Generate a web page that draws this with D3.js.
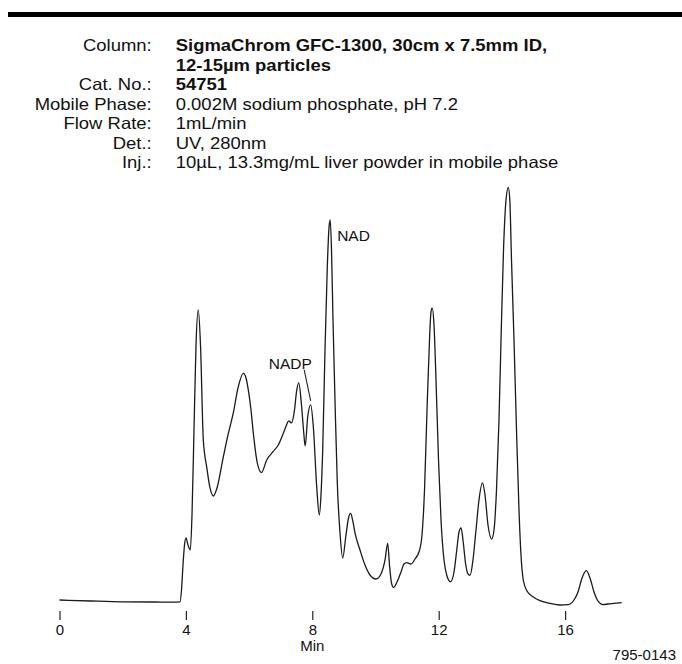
<!DOCTYPE html>
<html>
<head>
<meta charset="utf-8">
<script src="https://cdn.jsdelivr.net/npm/d3@7"></script>
<style>
  html, body { margin: 0; padding: 0; background: #fff; }
  svg { display: block; font-family: "Liberation Sans", Arial, Helvetica, sans-serif; }
</style>
</head>
<body>
<svg id="chart" width="682" height="664"></svg>
<script>
// ---------------- DATA ----------------
const headerLabels = ["Column:", "", "Cat. No.:", "Mobile Phase:", "Flow Rate:", "Det.:", "Inj.:"];
const headerValues = [
  "SigmaChrom GFC-1300, 30cm x 7.5mm ID,",
  "12-15µm particles",
  "54751",
  "0.002M sodium phosphate, pH 7.2",
  "1mL/min",
  "UV, 280nm",
  "10µL, 13.3mg/mL liver powder in mobile phase"
];

// retention time (min)
const retentionTime = [
  0, 1.0, 2.0, 3.0, 3.6, 3.813, 3.861, 3.908, 3.956, 4.003,
  4.066, 4.139, 4.193, 4.256, 4.320, 4.392, 4.462, 4.551, 4.658, 4.763,
  4.867, 4.984, 5.184, 5.332, 5.500, 5.649, 5.816, 5.902, 5.975, 6.060,
  6.133, 6.259, 6.392, 6.557, 6.766, 6.924, 7.082, 7.184, 7.253, 7.342,
  7.437, 7.500, 7.570, 7.658, 7.722, 7.775, 7.854, 7.949, 8.032, 8.139,
  8.222, 8.275, 8.329, 8.402, 8.475, 8.528, 8.566, 8.608, 8.655, 8.718,
  8.791, 8.877, 8.962, 9.066, 9.146, 9.215, 9.288, 9.351, 9.509, 9.668,
  9.826, 10.016, 10.174, 10.301, 10.386, 10.443, 10.506, 10.570, 10.681, 10.807,
  10.902, 10.987, 11.123, 11.250, 11.386, 11.472, 11.551, 11.630, 11.709, 11.756,
  11.794, 11.851, 11.915, 11.994, 12.073, 12.168, 12.263, 12.373, 12.484, 12.579,
  12.642, 12.706, 12.769, 12.848, 12.927, 12.991, 13.085, 13.180, 13.275, 13.386,
  13.465, 13.560, 13.677, 13.750, 13.829, 13.908, 13.972, 14.051, 14.130, 14.203,
  14.250, 14.304, 14.383, 14.462, 14.541, 14.604, 14.677, 14.794, 14.994, 15.206,
  15.522, 15.839, 16.092, 16.282, 16.408, 16.535, 16.671, 16.788, 16.915, 17.041,
  17.199, 17.358, 17.547, 17.791
];
// detector response (relative units, tallest peak ≈ 103)
const response = [
  0.25, 0, -0.2, -0.25, -0.3, -0.2, 2.75, 9, 14, 15.75,
  14, 12.75, 21.5, 42.75, 64, 72.75, 64, 40.25, 33.5, 28.25,
  26.25, 28.25, 36, 41.5, 47, 53.25, 56.9, 55.75, 52.75, 47.75,
  42, 34.5, 32.1, 35.25, 37.4, 39, 41.9, 44, 45, 44.5,
  47.75, 52.25, 54.5, 49, 42.75, 38.75, 46, 49, 43.6, 28.6,
  21.5, 26.5, 37.75, 62.75, 83.6, 93.25, 95.25, 87.75, 70.25, 50.25,
  29.5, 17, 10.75, 16.5, 20.75, 21.9, 19.75, 17, 12.75, 9,
  6.5, 5.5, 6.75, 10.25, 14.4, 9, 4.5, 3.4, 4.75, 7.25,
  9.25, 9.6, 9.25, 10.5, 12.5, 16.5, 27.75, 47.75, 65.25, 72.25,
  73.2, 69, 55.25, 35.25, 20.25, 10.25, 6.25, 4.8, 7.25, 13.25,
  17.25, 18.3, 15.25, 9.5, 6.75, 6.4, 10.25, 17.75, 25.25, 29.5,
  26.5, 19, 15.5, 17.75, 27.75, 45.25, 65.25, 87.75, 100.25, 103.4,
  100.25, 85.25, 65.25, 42.75, 22.75, 11.5, 5.25, 2.5, 1, 0.1,
  -0.6, -1, -0.9, 0.25, 2.25, 5.75, 7.6, 5.75, 2.25, 0,
  -0.9, -0.75, -0.6, -0.4
];

const tickValues = [0, 4, 8, 12, 16];
const axisTitle = "Min";
const figureCode = "795-0143";

const peakNames = ["NADP", "NAD"];
const peakTimes = [7.949, 8.566];
const peakHeights = [49, 95.25];

// ---------------- DRAW ----------------
const svg = d3.select("#chart");

// top black rule
svg.append("rect").attr("x", 8).attr("y", 12).attr("width", 674).attr("height", 5).attr("fill", "#000");

// header block
const header = svg.append("g").attr("fill", "#111");
headerLabels.forEach((lab, i) => {
  const y = 51 + i * 19.5;
  if (lab) {
    header.append("text")
      .attr("transform", `translate(151.7,${y}) scale(1.12,1)`)
      .attr("text-anchor", "end")
      .attr("font-size", 16.5)
      .text(lab);
  }
  header.append("text")
    .attr("transform", `translate(175.7,${y}) scale(1.12,1)`)
    .attr("font-size", 16.5)
    .attr("font-weight", i <= 2 ? "bold" : "normal")
    .text(headerValues[i]);
});

// scales
const x = d3.scaleLinear().domain([0, 18]).range([59.5, 59.5 + 31.6 * 18]);
const y = d3.scaleLinear().domain([0, 103.4]).range([601, 187.3]);

const pts = retentionTime.map((t, i) => [t, response[i]]);
const line = d3.line().x(d => x(d[0])).y(d => y(d[1])).curve(d3.curveMonotoneX);

svg.append("path")
  .datum(pts)
  .attr("d", line)
  .attr("fill", "none")
  .attr("stroke", "#1a1a1a")
  .attr("stroke-width", 1.3)
  .attr("stroke-linejoin", "round");

// axis
const axis = d3.axisBottom(x).tickValues(tickValues).tickSize(9).tickPadding(4).tickFormat(d3.format("d"));
const gAxis = svg.append("g").attr("transform", "translate(0,611)").call(axis);
gAxis.select(".domain").remove();
gAxis.selectAll(".tick line").attr("stroke", "#222").attr("stroke-width", 1.2);
gAxis.selectAll(".tick text").attr("font-size", 15).attr("fill", "#111")
  .attr("font-family", "Liberation Sans, Arial, sans-serif");

svg.append("text")
  .attr("x", x(8)).attr("y", 651)
  .attr("text-anchor", "middle")
  .attr("font-size", 15).attr("fill", "#111")
  .text(axisTitle);

svg.append("text")
  .attr("x", 676).attr("y", 660)
  .attr("text-anchor", "end")
  .attr("font-size", 15).attr("fill", "#111")
  .text(figureCode);

// peak annotations
// NADP with leader line
svg.append("text")
  .attr("x", x(peakTimes[0]) - 42).attr("y", y(peakHeights[0]) - 35.5)
  .attr("font-size", 15.5).attr("fill", "#111")
  .text(peakNames[0]);
svg.append("line")
  .attr("x1", x(peakTimes[0]) - 6.5).attr("y1", y(peakHeights[0]) - 35)
  .attr("x2", x(peakTimes[0])).attr("y2", y(peakHeights[0]) - 4)
  .attr("stroke", "#222").attr("stroke-width", 1.1);
// NAD
svg.append("text")
  .attr("x", x(peakTimes[1]) + 7).attr("y", y(peakHeights[1]) + 21.5)
  .attr("font-size", 15.5).attr("fill", "#111")
  .text(peakNames[1]);
</script>
</body>
</html>
